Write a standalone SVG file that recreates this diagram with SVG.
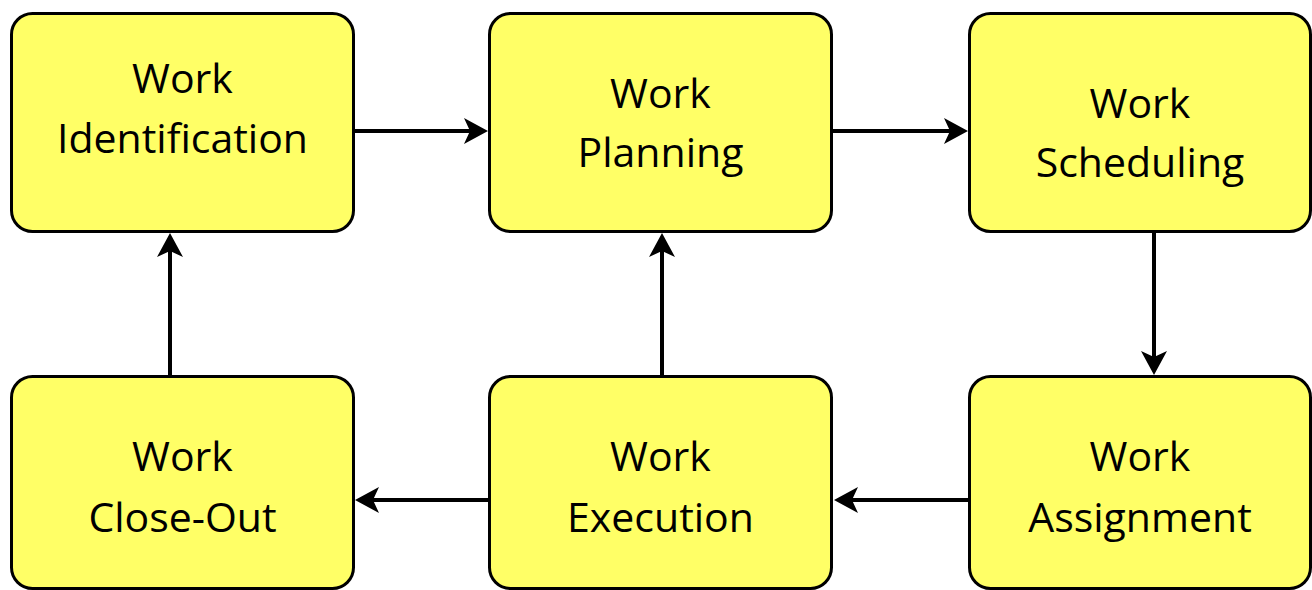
<svg xmlns="http://www.w3.org/2000/svg" width="1312" height="590" viewBox="0 0 1312 590">
<style>
.box{fill:#FFFF66;stroke:#000;stroke-width:3}
.lbl{font-family:"Open Sans","Liberation Sans",sans-serif;font-size:41px;fill:#000;text-anchor:middle}
.conn{stroke:#000;stroke-width:4;fill:none}
</style>
<defs>
<marker id="ah" markerUnits="userSpaceOnUse" viewBox="-25 -14 27 28" refX="-10" refY="0" markerWidth="27" markerHeight="28" orient="auto">
<path d="M0,0 L-24,-13 L-18,0 L-24,13 Z" fill="#000"/>
</marker>
</defs>
<rect width="1312" height="590" fill="#fff"/>
<g id="connectors">
<line class="conn" x1="355" y1="131" x2="478" y2="131" marker-end="url(#ah)"/>
<line class="conn" x1="833" y1="131" x2="958" y2="131" marker-end="url(#ah)"/>
<line class="conn" x1="1154" y1="232" x2="1154" y2="365" marker-end="url(#ah)"/>
<line class="conn" x1="968" y1="500" x2="844" y2="500" marker-end="url(#ah)"/>
<line class="conn" x1="489" y1="500" x2="365" y2="500" marker-end="url(#ah)"/>
<line class="conn" x1="662" y1="376" x2="662" y2="243" marker-end="url(#ah)"/>
<line class="conn" x1="170" y1="376" x2="170" y2="243" marker-end="url(#ah)"/>
</g>
<g id="n1">
<rect class="box" x="11.5" y="13.5" width="342" height="218" rx="21"/>
<text class="lbl" x="182.5" y="93">Work</text>
<text class="lbl" x="182.5" y="153">Identification</text>
</g>
<g id="n2">
<rect class="box" x="489.5" y="13.5" width="342" height="218" rx="21"/>
<text class="lbl" x="660.5" y="108">Work</text>
<text class="lbl" x="660.5" y="167">Planning</text>
</g>
<g id="n3">
<rect class="box" x="969.5" y="13.5" width="341" height="218" rx="21"/>
<text class="lbl" x="1140" y="118">Work</text>
<text class="lbl" x="1140" y="177">Scheduling</text>
</g>
<g id="n4">
<rect class="box" x="969.5" y="376.5" width="341" height="212" rx="21"/>
<text class="lbl" x="1140" y="471">Work</text>
<text class="lbl" x="1140" y="532">Assignment</text>
</g>
<g id="n5">
<rect class="box" x="489.5" y="376.5" width="342" height="212" rx="21"/>
<text class="lbl" x="660.5" y="471">Work</text>
<text class="lbl" x="660.5" y="532">Execution</text>
</g>
<g id="n6">
<rect class="box" x="11.5" y="376.5" width="342" height="212" rx="21"/>
<text class="lbl" x="182.5" y="471">Work</text>
<text class="lbl" x="182.5" y="532">Close-Out</text>
</g>
</svg>
